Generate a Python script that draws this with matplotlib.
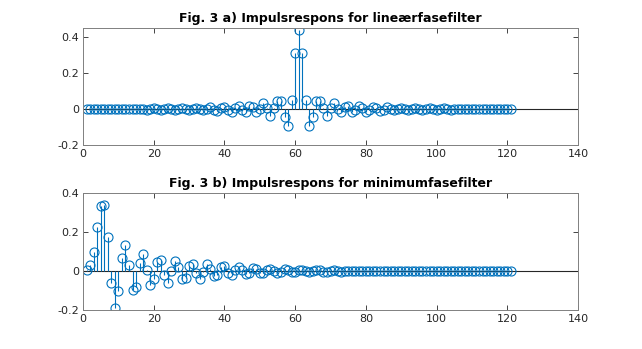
import numpy as np
import matplotlib
matplotlib.use("Agg")
import matplotlib.pyplot as plt

plt.rcParams['font.family'] = ['DejaVu Sans']
plt.rcParams['axes.unicode_minus'] = False

title_a = "Fig. 3 a) Impulsrespons for lineærfasefilter"
title_b = "Fig. 3 b) Impulsrespons for minimumfasefilter"

# Linear-phase filter: first half (n = 1..60), centre (n = 61); mirrored for 62..121
lin_half = [0.0, 0.0, 0.001, 0.0, -0.001, 0.0, 0.001, 0.0, -0.001, 0.0,
            0.002, 0.0, -0.002, -0.001, 0.002, 0.002, -0.002, -0.003, 0.002, 0.003,
            -0.002, -0.004, 0.002, 0.004, -0.002, -0.005, 0.002, 0.005, -0.002, -0.006,
            0.002, 0.007, -0.002, -0.008, 0.002, 0.009, -0.003, -0.011, 0.003, 0.012,
            -0.003, -0.014, 0.004, 0.016, -0.006, -0.016, 0.014, 0.012, -0.016, 0.0,
            0.034, 0.005, -0.037, 0.005, 0.043, 0.047, -0.043, -0.095, 0.049, 0.31]
lin_centre = [0.44]
lin_values = lin_half + lin_centre + lin_half[::-1]

min_values = [0.005, 0.03, 0.10, 0.225, 0.335, 0.34, 0.175, -0.06, -0.19, -0.105,
              0.065, 0.135, 0.03, -0.095, -0.08, 0.04, 0.088, 0.003, -0.073, -0.04,
              0.045, 0.055, -0.018, -0.06, -0.002, 0.05, 0.02, -0.04, -0.035, 0.025,
              0.037, -0.008, -0.04, -0.005, 0.035, 0.012, -0.028, -0.02, 0.022, 0.024,
              -0.012, -0.022, 0.004, 0.02, 0.005, -0.016, -0.01, 0.013, 0.012, -0.008,
              -0.012, 0.004, 0.012, 0.0, -0.01, -0.004, 0.008, 0.007, -0.005, -0.007,
              0.003, 0.007, 0.0, -0.005, -0.002, 0.004, 0.003, -0.003, -0.003, 0.002,
              0.003, -0.001, -0.003, 0.0, 0.002, 0.001, -0.002, -0.001, 0.001, 0.001] + [0.0] * 41

n = np.arange(1, len(lin_values) + 1)
n2 = np.arange(1, len(min_values) + 1)

xticks = [0, 20, 40, 60, 80, 100, 120, 140]
yticks = [-0.2, 0, 0.2, 0.4]
ytick_labels = ['-0.2', '0', '0.2', '0.4']

blue = '#0072BD'
axcol = '#262626'

fig = plt.figure(figsize=(6.42, 3.49), dpi=100)
ax1 = fig.add_axes([83/642, 1-145/349, 495/642, 117/349])
ax2 = fig.add_axes([83/642, 1-310/349, 495/642, 117/349])

def draw(ax, x, y, title, ylim):
    ax.vlines(x, 0, y, color=blue, linewidth=0.8)
    ax.plot(x, y, linestyle='none', marker='o', markersize=6.5,
            markerfacecolor='none', markeredgecolor=blue, markeredgewidth=0.8)
    ax.axhline(0, color=axcol, linewidth=0.8, zorder=0)
    ax.set_xlim(0, 140)
    ax.set_ylim(*ylim)
    ax.set_xticks(xticks)
    ax.set_yticks(yticks)
    ax.set_yticklabels(ytick_labels)
    ax.tick_params(direction='in', length=3.5, width=0.6, colors=axcol,
                   labelsize=8, top=True, right=True, pad=3)
    for s in ax.spines.values():
        s.set_color('#808080')
        s.set_linewidth(0.7)
    ax.set_title(title, fontsize=9, fontweight='bold', pad=4)

draw(ax1, n, lin_values, title_a, (-0.2, 0.45))
draw(ax2, n2, min_values, title_b, (-0.2, 0.4))

fig.savefig('out.png', dpi=100)
